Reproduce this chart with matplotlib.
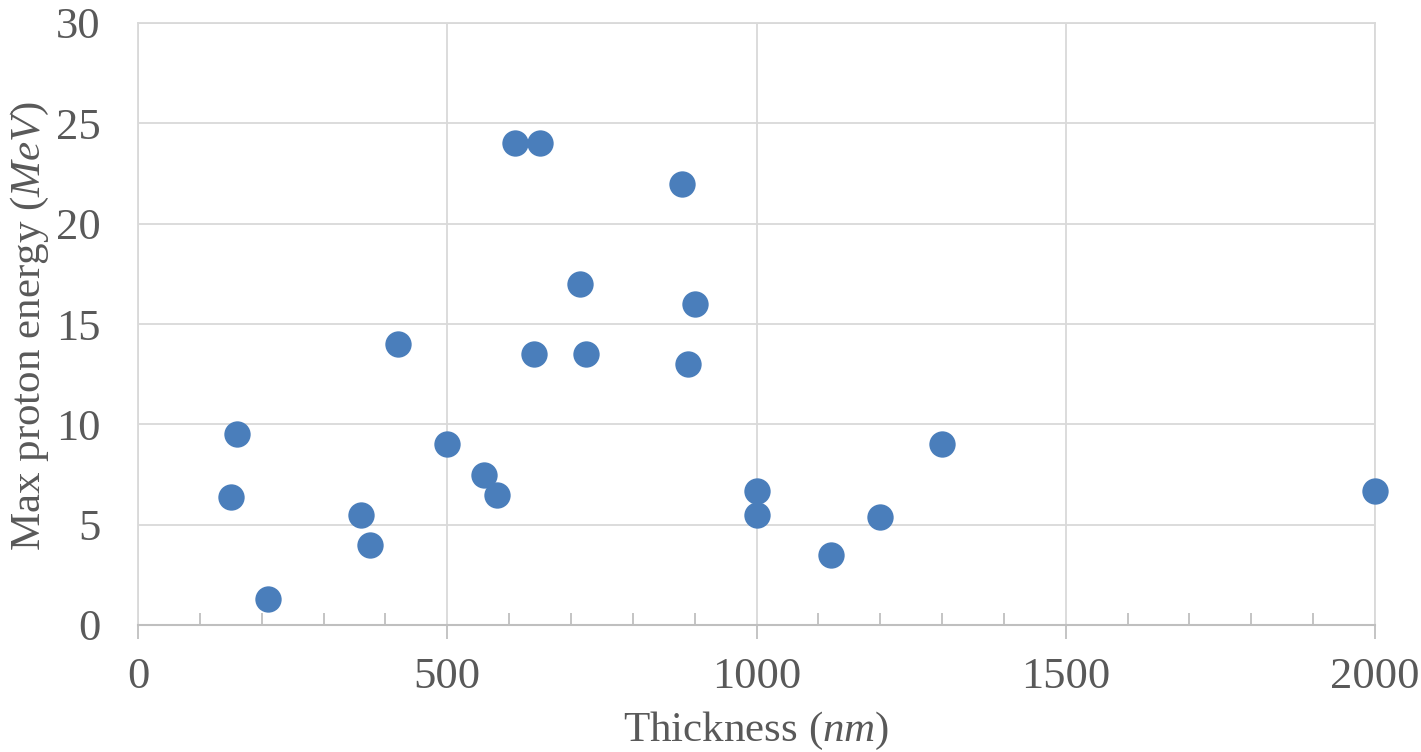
import matplotlib
matplotlib.use("Agg")
import matplotlib.pyplot as plt
from matplotlib.ticker import MultipleLocator

thickness = [150, 160, 210, 360, 375, 420, 500, 560, 580, 610, 650, 640, 715, 725,
             880, 890, 900, 1000, 1000, 1120, 1200, 1300, 2000]
energy = [6.4, 9.5, 1.3, 5.5, 4.0, 14.0, 9.0, 7.5, 6.5, 24.0, 24.0, 13.5, 17.0, 13.5,
          22.0, 13.0, 16.0, 6.7, 5.5, 3.5, 5.4, 9.0, 6.7]
x_ticks = [0, 500, 1000, 1500, 2000]
y_ticks = [0, 5, 10, 15, 20, 25, 30]

plt.rcParams['font.family'] = ['Liberation Serif', 'DejaVu Serif']
plt.rcParams['mathtext.fontset'] = 'custom'
plt.rcParams['mathtext.it'] = 'Liberation Serif:italic'
plt.rcParams['mathtext.rm'] = 'Liberation Serif'

text_color = '#595959'
grid_color = '#d9d9d9'

fig = plt.figure(figsize=(14.21, 7.52), dpi=100)
ax = fig.add_axes([138/1421, 127/752, (1375-138)/1421, (625-23)/752])

ax.scatter(thickness, energy, s=360, color='#4a7ebb', linewidths=0, zorder=3, clip_on=False)

ax.set_xlim(0, 2000)
ax.set_ylim(0, 30)
ax.set_xticks(x_ticks)
ax.set_yticks(y_ticks)
ax.xaxis.set_minor_locator(MultipleLocator(100))
ax.grid(True, which='major', color=grid_color, linewidth=1.3, zorder=0)
ax.set_axisbelow(True)

for side in ['top', 'right', 'left']:
    ax.spines[side].set_color(grid_color)
    ax.spines[side].set_linewidth(1.3)
ax.spines['bottom'].set_color('#bfbfbf')
ax.spines['bottom'].set_linewidth(1.5)

ax.tick_params(axis='x', which='major', direction='out', length=10, width=1.3,
               color='#bfbfbf', labelsize=32, labelcolor=text_color, pad=13)
ax.tick_params(axis='x', which='minor', direction='in', length=9, width=1.3,
               color='#bfbfbf')
ax.tick_params(axis='y', which='major', length=0, labelsize=32,
               labelcolor=text_color, pad=27)

ax.set_xlabel(r'Thickness ($\mathit{nm}$)', fontsize=31, color=text_color, labelpad=9)
fig.text(30/1421, 1 - 326/752, r'Max proton energy ($\mathit{MeV}$)', fontsize=31,
         color=text_color, rotation=90, ha='center', va='center')

fig.savefig('out.png', dpi=100, facecolor='white')
